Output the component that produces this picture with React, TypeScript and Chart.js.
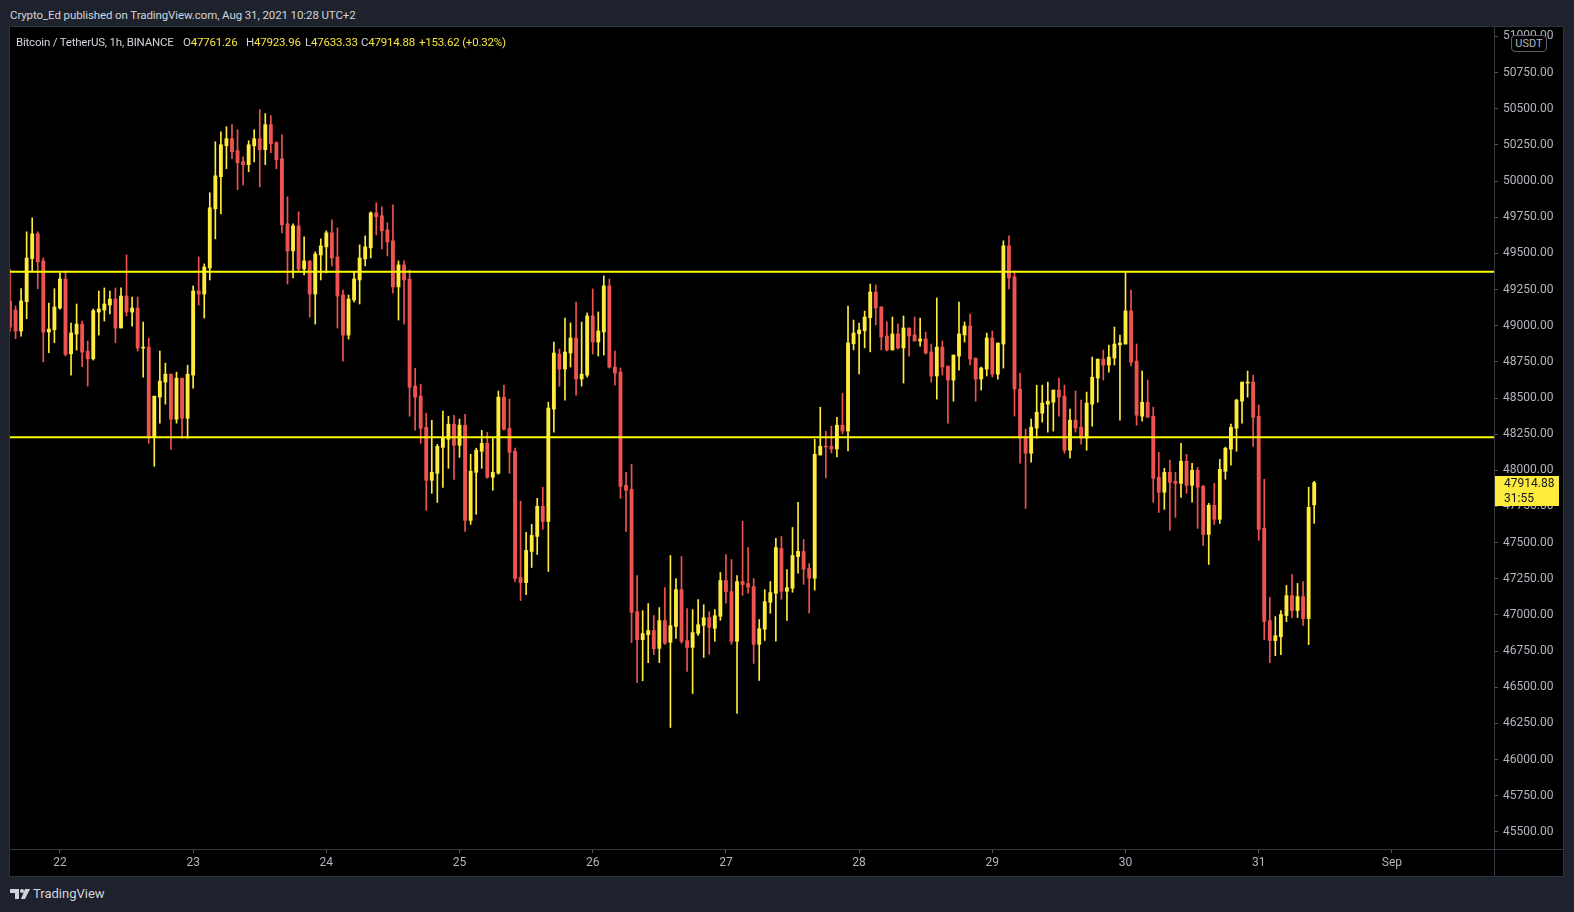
import React, { useEffect, useRef } from 'react';
import { Chart, registerables } from 'chart.js';

Chart.register(...registerables);

// Hourly candles, Aug 21 15:00 -> Aug 31 10:00 (UTC+2), index 0..235
const opens = [
  49170, 49108, 48963, 49166, 49464, 49635, 49448, 48956, 48972, 49122,
  49323, 48806, 48942, 49011, 48824, 48771, 49094, 49108, 49143, 49184,
  48984, 49205, 49094, 49122, 48845, 48852, 48229, 48506, 48610, 48665,
  48353, 48637, 48360, 48658, 49240, 49219, 49399, 49808, 50030, 50244,
  50293, 50210, 50133, 50113, 50244, 50293, 50217, 50390, 50265, 50154,
  49704, 49517, 49690, 49392, 49448, 49219, 49489, 49545, 49642, 49475,
  49212, 48935, 49178, 49316, 49462, 49538, 49780, 49760, 49662, 49586,
  49268, 49420, 49323, 48582, 48513, 48298, 47931, 47979, 48159, 48215,
  48319, 48173, 48312, 47654, 47986, 48132, 48187, 47952, 47980, 48506,
  48291, 48132, 47259, 47224, 47439, 47543, 47751, 47647, 48423, 48804,
  48700, 48811, 48915, 48631, 48658, 49067, 48887, 48956, 49275, 48714,
  48679, 47896, 47869, 47023, 46829, 46864, 46892, 46769, 46961, 46811,
  46921, 47175, 46822, 46776, 46873, 46928, 46981, 46908, 46991, 47238,
  47162, 46818, 47231, 47217, 47196, 46797, 46901, 47088, 47150, 47459,
  47164, 47185, 47404, 47439, 47321, 47254, 48106, 48166, 48166, 48148,
  48312, 48272, 48875, 48944, 48965, 49055, 49233, 49130, 48929, 48832,
  48943, 48846, 48984, 48936, 48894, 48908, 48818, 48652, 48852, 48721,
  48624, 48790, 48936, 48998, 48776, 48631, 48700, 48915, 48665, 48873,
  49552, 49337, 48562, 48222, 48118, 48292, 48395, 48458, 48471, 48555,
  48513, 48139, 48347, 48298, 48222, 48457, 48638, 48769, 48728, 48776,
  48868, 48873, 49102, 48755, 48374, 48471, 48374, 47952, 47848, 47986,
  47924, 47910, 48063, 47896, 48000, 47889, 47557, 47758, 47661, 47993,
  48146, 48291, 48478, 48603, 48610, 48374, 47599, 46961, 46823, 46850,
  46996, 47134, 47031, 47127, 46975, 47761.26,
];

const highs = [
  49390, 49136, 49256, 49649, 49746, 49649, 49468, 49157, 49256, 49365,
  49378, 49018, 49150, 49032, 48894, 49115, 49240, 49261, 49240, 49261,
  49261, 49489, 49198, 49198, 49025, 48914, 48513, 48824, 48741, 48665,
  48679, 48637, 48727, 49275, 49475, 49427, 49919, 50272, 50341, 50376,
  50390, 50355, 50168, 50279, 50355, 50494, 50466, 50452, 50272, 50320,
  49891, 49704, 49787, 49614, 49448, 49510, 49600, 49656, 49732, 49676,
  49247, 49212, 49372, 49559, 49621, 49787, 49849, 49822, 49711, 49836,
  49448, 49448, 49385, 48706, 48596, 48395, 48346, 48180, 48409, 48374,
  48381, 48354, 48388, 48111, 48153, 48277, 48263, 48229, 48548, 48589,
  48492, 48153, 47786, 47571, 47626, 47806, 47883, 48471, 48887, 48838,
  49053, 49019, 49164, 49025, 49088, 49254, 49095, 49344, 49323, 48825,
  48707, 47986, 48042, 47273, 47030, 47079, 46996, 47051, 47189, 47411,
  47252, 47404, 47044, 47037, 47106, 47071, 47023, 47037, 47293, 47418,
  47383, 47272, 47647, 47466, 47252, 46968, 47175, 47231, 47529, 47543,
  47314, 47605, 47778, 47522, 47356, 48215, 48436, 48270, 48305, 48367,
  48533, 49136, 49039, 49018, 49101, 49288, 49282, 49130, 49026, 49060,
  49012, 49067, 48984, 49060, 49053, 48956, 48873, 49192, 48894, 48721,
  48797, 49164, 49026, 49081, 48776, 48714, 48949, 48963, 48880, 49587,
  49621, 49379, 48672, 48285, 48354, 48589, 48589, 48610, 48555, 48638,
  48589, 48423, 48548, 48485, 48541, 48783, 48769, 48832, 48866, 48991,
  48935, 49372, 49247, 48873, 48686, 48624, 48437, 48125, 48014, 48070,
  47986, 48187, 48111, 48049, 48021, 47896, 47772, 47910, 48076, 48160,
  48319, 48492, 48610, 48686, 48658, 48451, 47938, 47121, 46989, 47031,
  47204, 47280, 47218, 47231, 47883, 47923.96,
];

const lows = [
  48960, 48910, 48928, 49048, 49372, 49256, 48750, 48813, 48882, 49115,
  48790, 48658, 48831, 48716, 48582, 48762, 48935, 49032, 49081, 48882,
  48984, 49067, 48997, 48824, 48644, 48187, 48028, 48326, 48457, 48145,
  48326, 48222, 48222, 48568, 49143, 49053, 49316, 49600, 49773, 50085,
  50154, 49940, 49974, 50064, 50133, 49960, 50113, 50196, 50085, 49642,
  49288, 49330, 49378, 49351, 49060, 49011, 49316, 49365, 49413, 48984,
  48755, 48907, 49164, 49150, 49413, 49468, 49628, 49531, 49482, 49226,
  49039, 49011, 48374, 48277, 48187, 47723, 47841, 47778, 47882, 48014,
  47938, 48090, 47578, 47626, 47696, 48014, 47945, 47862, 47973, 48277,
  47980, 47231, 47100, 47141, 47328, 47418, 47592, 47301, 48263, 48582,
  48485, 48714, 48520, 48582, 48644, 48804, 48790, 48797, 48707, 48589,
  47806, 47578, 46809, 46532, 46545, 46670, 46726, 46670, 46797, 46222,
  46838, 46804, 46610, 46457, 46859, 46707, 46728, 46818, 46963, 47081,
  46797, 46319, 47136, 47150, 46665, 46547, 46824, 47012, 46818, 47109,
  46963, 47157, 47289, 47212, 47012, 47171, 48106, 47947, 48120, 48092,
  48251, 48134, 48833, 48667, 48847, 48819, 49005, 48832, 48825, 48832,
  48839, 48603, 48790, 48894, 48859, 48804, 48610, 48492, 48659, 48326,
  48478, 48693, 48887, 48728, 48478, 48555, 48652, 48645, 48631, 48707,
  49254, 48375, 48049, 47737, 48056, 48222, 48333, 48264, 48271, 48375,
  48118, 48084, 48264, 48181, 48139, 48305, 48471, 48624, 48679, 48728,
  48347, 48873, 48721, 48312, 48340, 48367, 47779, 47709, 47730, 47585,
  47675, 47813, 47841, 47779, 47599, 47481, 47349, 47626, 47633, 47938,
  48035, 48132, 48326, 48506, 48166, 47515, 46830, 46670, 46719, 46726,
  46954, 46982, 46982, 46927, 46795, 47633.33,
];

const closes = [
  48990, 48963, 49171, 49468, 49635, 49441, 48956, 48977, 49129, 49323,
  48801, 48949, 49011, 48817, 48771, 49104, 49115, 49150, 49184, 48984,
  49205, 49094, 49122, 48845, 48852, 48229, 48513, 48617, 48665, 48353,
  48637, 48360, 48665, 49240, 49219, 49406, 49815, 50036, 50251, 50293,
  50203, 50127, 50113, 50251, 50293, 50217, 50390, 50258, 50147, 49697,
  49517, 49690, 49392, 49448, 49219, 49496, 49552, 49642, 49468, 49205,
  48935, 49184, 49323, 49468, 49545, 49780, 49753, 49656, 49579, 49268,
  49420, 49316, 48575, 48506, 48291, 47931, 47986, 48166, 48229, 48319,
  48173, 48312, 47654, 47993, 48139, 48187, 47952, 47986, 48506, 48284,
  48125, 47252, 47224, 47446, 47550, 47751, 47647, 48430, 48811, 48700,
  48818, 48915, 48631, 48665, 49067, 48887, 48963, 49275, 48714, 48672,
  47889, 47862, 47017, 46829, 46871, 46892, 46767, 46961, 46804, 46926,
  47175, 46818, 46776, 46878, 46933, 46981, 46914, 46995, 47238, 47162,
  46818, 47231, 47210, 47192, 46797, 46905, 47092, 47155, 47466, 47164,
  47189, 47411, 47439, 47316, 47254, 48111, 48166, 48161, 48148, 48312,
  48272, 48880, 48949, 48970, 49060, 49233, 49123, 48922, 48832, 48943,
  48846, 48984, 48929, 48894, 48908, 48811, 48652, 48852, 48714, 48624,
  48797, 48943, 48998, 48769, 48631, 48707, 48915, 48665, 48880, 49552,
  49330, 48562, 48222, 48118, 48298, 48402, 48465, 48478, 48555, 48506,
  48139, 48347, 48292, 48222, 48465, 48644, 48769, 48728, 48783, 48873,
  48880, 49102, 48748, 48381, 48471, 48367, 47945, 47848, 47986, 47917,
  47910, 48063, 47896, 48000, 47883, 47557, 47758, 47661, 48007, 48153,
  48298, 48485, 48610, 48610, 48367, 47592, 46954, 46823, 46857, 47003,
  47134, 47031, 47127, 46975, 47744, 47914.88,
];

// x-axis: candle index of each day start, and its label
const dayTickIndex = [9, 33, 57, 81, 105, 129, 153, 177, 201, 225, 249];
const dayTickLabels = ['22', '23', '24', '25', '26', '27', '28', '29', '30', '31', 'Sep'];

// y-axis tick values
const yTickValues = [
  45500, 45750, 46000, 46250, 46500, 46750, 47000, 47250, 47500, 47750, 48000, 48250,
  48500, 48750, 49000, 49250, 49500, 49750, 50000, 50250, 50500, 50750, 51000,
];

// horizontal levels drawn by the author
const levelLines = [49373, 48228];

const countdown = '31:55';
const legendTitle = 'Bitcoin / TetherUS, 1h, BINANCE';
const legendOHLC = [
  { k: 'O', v: '47761.26', x: 173 },
  { k: 'H', v: '47923.96', x: 236 },
  { k: 'L', v: '47633.33', x: 295 },
  { k: 'C', v: '47914.88', x: 351 },
];
const legendChange = '+153.62 (+0.32%)';

const X_MIN = 0;
const X_MAX = 267.4;
const Y_MIN = 45382;
const Y_MAX = 51065;

const UP = '#ffeb3b';
const DOWN = '#ef5350';
const LEVEL = '#ffff00';
const AXIS_LINE = '#363a45';
const TEXT = '#b2b5be';
const LEGEND_YELLOW = '#f7e53b';

const CANVAS_W = 1553;
const CANVAS_H = 849;

const legendFont = {
  fontSize: 11.5,
  letterSpacing: '-0.2px',
  lineHeight: '16px',
  whiteSpace: 'nowrap' as const,
};

const decorPlugin = {
  id: 'tvDecor',
  afterDraw(chart: any) {
    const { ctx, chartArea: a } = chart;
    const w = chart.width;
    const h = chart.height;
    ctx.save();
    ctx.strokeStyle = AXIS_LINE;
    ctx.lineWidth = 1;
    ctx.beginPath();
    const by = Math.round(a.bottom) + 0.5;
    const rx = Math.round(a.right) + 0.5;
    ctx.moveTo(0, by);
    ctx.lineTo(w, by);
    ctx.moveTo(rx, 0);
    ctx.lineTo(rx, h);
    ctx.stroke();

    const last = closes[closes.length - 1];
    const y = chart.scales.y.getPixelForValue(last);
    ctx.fillStyle = UP;
    ctx.fillRect(Math.round(a.right) + 1, Math.round(y - 7), 64, 30);
    ctx.fillStyle = '#131722';
    ctx.font = '12px Roboto, "Noto Sans", sans-serif';
    ctx.textBaseline = 'middle';
    ctx.textAlign = 'left';
    ctx.fillText(last.toFixed(2), a.right + 10, y + 1.5);
    ctx.fillText(countdown, a.right + 10, y + 16);
    ctx.restore();
  },
};

export default function App() {
  const ref = useRef<HTMLCanvasElement>(null);

  useEffect(() => {
    document.body.style.margin = '0';
    document.body.style.background = '#1e222d';
    if (!ref.current) return;
    Chart.defaults.font.family = 'Roboto, "Noto Sans", sans-serif';

    const idx = opens.map((_, i) => i);
    const colors = idx.map((i) => (closes[i] >= opens[i] ? UP : DOWN));

    const chart = new Chart(ref.current, {
      type: 'bar',
      data: {
        datasets: [
          ...levelLines.map((lv) => ({
            type: 'line' as const,
            data: [
              { x: X_MIN, y: lv },
              { x: X_MAX, y: lv },
            ],
            borderColor: LEVEL,
            borderWidth: 2,
            pointRadius: 0,
            order: 0,
            clip: 0,
          })),
          {
            type: 'bar' as const,
            data: idx.map((i) => ({ x: i, y: [lows[i], highs[i]] })),
            backgroundColor: colors,
            barThickness: 1,
            grouped: false,
            borderWidth: 0,
            order: 2,
            clip: 0,
          },
          {
            type: 'bar' as const,
            data: idx.map((i) => ({ x: i, y: [opens[i], closes[i]] })),
            backgroundColor: colors,
            barThickness: 3.2,
            minBarLength: 1,
            grouped: false,
            borderWidth: 0,
            order: 1,
            clip: 0,
          },
        ] as any,
      },
      options: {
        animation: false,
        responsive: false,
        maintainAspectRatio: false,
        events: [],
        layout: { padding: 0 },
        plugins: {
          legend: { display: false },
          tooltip: { enabled: false },
        },
        scales: {
          x: {
            type: 'linear',
            position: 'bottom',
            bounds: 'data',
            offset: false,
            min: X_MIN,
            max: X_MAX,
            grid: {
              offset: false,
              drawOnChartArea: false,
              drawTicks: true,
              tickLength: 4,
              color: '#50535e',
            },
            border: { display: false },
            ticks: {
              autoSkip: false,
              maxRotation: 0,
              minRotation: 0,
              padding: 3,
              color: TEXT,
              font: { size: 12 },
              callback: (_v: any, i: number) => dayTickLabels[i],
            },
            afterBuildTicks: (s: any) => {
              s.ticks = dayTickIndex.map((v) => ({ value: v }));
            },
            afterFit: (s: any) => {
              s.height = 27;
              s.paddingLeft = 0;
              s.paddingRight = 0;
            },
          },
          y: {
            type: 'linear',
            position: 'right',
            bounds: 'data',
            min: Y_MIN,
            max: Y_MAX,
            grid: {
              drawOnChartArea: false,
              drawTicks: true,
              tickLength: 4,
              color: '#50535e',
            },
            border: { display: false },
            ticks: {
              autoSkip: false,
              padding: 5,
              color: TEXT,
              font: { size: 12 },
              callback: (v: any) => Number(v).toFixed(2),
            },
            afterBuildTicks: (s: any) => {
              s.ticks = yTickValues.map((v) => ({ value: v }));
            },
            afterFit: (s: any) => {
              s.width = 69;
              s.paddingTop = 0;
              s.paddingBottom = 0;
            },
          },
        },
      } as any,
      plugins: [decorPlugin],
    });

    return () => chart.destroy();
  }, []);

  return (
    <div
      style={{
        position: 'absolute',
        left: 0,
        top: 0,
        width: 1574,
        height: 912,
        background: '#1e222d',
        overflow: 'hidden',
        fontFamily: 'Roboto, "Noto Sans", sans-serif',
      }}
    >
      <div
        style={{
          position: 'absolute',
          left: 10,
          top: 7,
          fontSize: 11.5,
          letterSpacing: '-0.1px',
          lineHeight: '16px',
          color: '#d1d4dc',
          whiteSpace: 'nowrap',
        }}
      >
        Crypto_Ed published on TradingView.com, Aug 31, 2021 10:28 UTC+2
      </div>

      <div
        style={{
          position: 'absolute',
          left: 9,
          top: 26,
          width: CANVAS_W,
          height: CANVAS_H,
          border: '1px solid #2f333e',
          background: '#000000',
        }}
      >
        <canvas
          ref={ref}
          width={CANVAS_W}
          height={CANVAS_H}
          style={{ display: 'block', width: CANVAS_W, height: CANVAS_H }}
        />
        <div style={{ position: 'absolute', left: 6, top: 7, color: '#d1d4dc', ...legendFont }}>
          {legendTitle}
        </div>
        {legendOHLC.map((it) => (
          <div key={it.k} style={{ position: 'absolute', left: it.x, top: 7, ...legendFont }}>
            <span style={{ color: '#d1d4dc' }}>{it.k}</span>
            <span style={{ color: LEGEND_YELLOW }}>{it.v}</span>
          </div>
        ))}
        <div style={{ position: 'absolute', left: 409, top: 7, color: LEGEND_YELLOW, ...legendFont }}>
          {legendChange}
        </div>
        <div
          style={{
            position: 'absolute',
            left: 1501,
            top: 8,
            width: 34,
            height: 15,
            border: '1px solid #5d606b',
            borderRadius: 4,
            background: '#000000',
            color: TEXT,
            fontSize: 11,
            lineHeight: '15px',
            textAlign: 'center',
          }}
        >
          USDT
        </div>
      </div>

      <svg
        style={{ position: 'absolute', left: 10, top: 889 }}
        width={20}
        height={11}
        viewBox="0 0 20 11"
      >
        <path d="M0 0 H9 V10 H5 V4 H0 Z" fill="#d1d4dc" />
        <circle cx={12} cy={2} r={2} fill="#d1d4dc" />
        <path d="M15 0 H20 L15 10 H11 Z" fill="#d1d4dc" />
      </svg>
      <div
        style={{
          position: 'absolute',
          left: 33,
          top: 884,
          fontSize: 13,
          lineHeight: '20px',
          color: '#d1d4dc',
          whiteSpace: 'nowrap',
        }}
      >
        TradingView
      </div>
    </div>
  );
}
